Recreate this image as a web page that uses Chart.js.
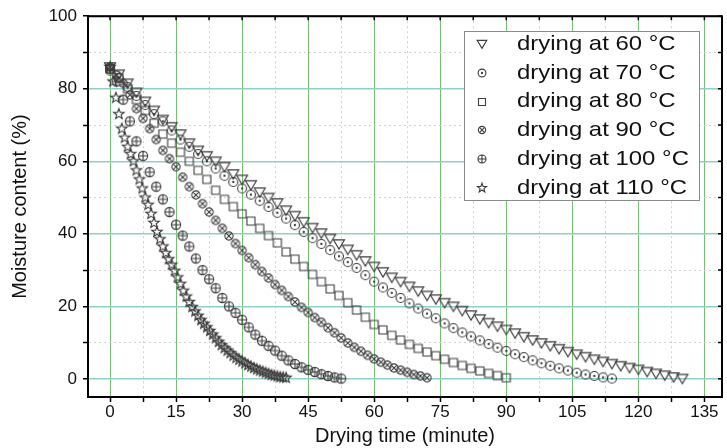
<!DOCTYPE html>
<html>
<head>
<meta charset="utf-8">
<script src="https://cdn.jsdelivr.net/npm/chart.js@4.4.1/dist/chart.umd.min.js"></script>
<style>
  html, body { margin: 0; padding: 0; background: #fff; }
  #wrap { width: 727px; height: 448px; }
</style>
</head>
<body>
<div id="wrap"><canvas id="chart" width="727" height="448"></canvas></div>
<script>
// Series labels (one per drying temperature)
const seriesLabels = ['drying at 60 °C', 'drying at 70 °C', 'drying at 80 °C', 'drying at 90 °C', 'drying at 100 °C', 'drying at 110 °C'];

// Drying time (minute) and moisture content (%)
const t60 = [0,2,4,6,8,10,12,14,16,18,20,22,24,26,28,30,32,34,36,38,40,42,44,46,48,50,52,54,56,58,60,62,64,66,68,70,72,74,76,78,80,82,84,86,88,90,92,94,96,98,100,102,104,106,108,110,112,114,116,118,120,122,124,126,128,130];
const m60 = [86,84,81.5,79,76.5,74,71.5,69.5,67.5,65,63,61.5,60,58.5,56.5,55,53.5,51.5,50,48.5,46.5,45,43.3,41.7,40.2,38.7,37.2,35.7,34.2,32.5,31,29.5,28,26.8,25.5,24.2,23,22,21,20,18.8,17.6,16.5,15.5,14.5,13.6,12.6,11.6,10.7,9.9,9.1,8.3,7.5,6.8,6.1,5.4,4.8,4.2,3.6,3.1,2.6,2.0,1.5,1.0,0.5,0.1];

const t70 = [0,2,4,6,8,10,12,14,16,18,20,22,24,26,28,30,32,34,36,38,40,42,44,46,48,50,52,54,56,58,60,62,64,66,68,70,72,74,76,78,80,82,84,86,88,90,92,94,96,98,100,102,104,106,108,110,112,114];
const m70 = [85,83,80.5,78,75.5,73,71,68.5,66,64,62,60,58,56,54.3,52.5,50.8,49.1,47.4,45.8,44.2,42.4,40.5,38.8,37.2,35.5,33.8,32.2,30.6,28.6,26.8,25.2,23.7,22.3,20.8,19.4,18,16.7,15.3,14,12.8,11.7,10.6,9.6,8.6,7.7,6.8,6,5.1,4.3,3.6,2.9,2.3,1.7,1.2,0.8,0.4,0.1];

const t80 = [0,2,4,6,8,10,12,14,16,18,20,22,24,26,28,30,32,34,36,38,40,42,44,46,48,50,52,54,56,58,60,62,64,66,68,70,72,74,76,78,80,82,84,86,88,90];
const m80 = [85.5,83,80,77,74,70.5,67.5,65,62.5,60,57.5,55,52,49.5,47.5,45.5,43.5,41.5,39.5,37.5,35,33,31,28.8,26.8,24.8,23,21,19,17,15,13.5,12,10.7,9.5,8.4,7.4,6.4,5.4,4.5,3.7,2.9,2.2,1.5,0.9,0.3];

const t90 = [0,1.5,3,4.5,6,7.5,9,10.5,12,13.5,15,16.5,18,19.5,21,22.5,24,25.5,27,28.5,30,31.5,33,34.5,36,37.5,39,40.5,42,43.5,45,46.5,48,49.5,51,52.5,54,55.5,57,58.5,60,61.5,63,64.5,66,67.5,69,70.5,72];
const m90 = [86,83.8,81.5,78.3,74.5,71.8,69,66,63,60.7,58.5,55.6,53,50.7,48.3,46,43.7,41.5,39.4,37.3,35.4,33.4,31.5,29.6,27.8,26,24.4,22.7,21.2,19.7,18.3,16.9,15.6,14.1,12.7,11.3,9.9,8.7,7.6,6.5,5.5,4.6,3.8,3.0,2.4,1.8,1.2,0.8,0.3];

const t100 = [0,1.5,3,4.5,6,7.5,9,10.5,12,13.5,15,16.5,18,19.5,21,22.5,24,25.5,27,28.5,30,31.5,33,34.5,36,37.5,39,40.5,42,43.5,45,46.5,48,49.5,51,52.5];
const m100 = [85.5,82,77,71,65.5,61.5,57,53,49.5,46,42.5,39.5,36.5,33.2,30,27.5,25,22.3,20,18.2,16.3,14.2,12.2,10.5,9.1,7.8,6.4,5.1,4.1,3.2,2.5,1.9,1.3,0.8,0.4,0.1];

const t110 = [0,0.67,1.33,2,2.67,3.33,4,4.67,5.33,6,6.67,7.33,8,8.67,9.33,10,10.67,11.33,12,12.67,13.33,14,14.67,15.33,16,16.67,17.33,18,18.67,19.33,20,20.67,21.33,22,22.67,23.33,24,24.67,25.33,26,26.67,27.33,28,28.67,29.33,30,30.67,31.33,32,32.67,33.33,34,34.67,35.33,36,36.67,37.33,38,38.67,39.33,40];
const m110 = [86,82,77.5,73,69,66.5,64,62,60,57.5,55,52.5,50,48,45.5,43,40.5,38.5,36.5,34.7,33,31.5,29.8,28,26.2,24.3,22.7,21.2,19.8,18.6,17.4,16.2,15.2,14.2,13.2,12.2,11.2,10.2,9.3,8.5,7.8,7.1,6.4,5.8,5.3,4.8,4.3,3.8,3.4,3.0,2.6,2.3,2.0,1.7,1.4,1.1,0.9,0.7,0.5,0.4,0.3];

// Axis ticks
const xMajor = [0,15,30,45,60,75,90,105,120,135];
const xTickValues = [0,7.5,15,22.5,30,37.5,45,52.5,60,67.5,75,82.5,90,97.5,105,112.5,120,127.5,135];
const yMajor = [0,20,40,60,80,100];
const yTickValues = [0,10,20,30,40,50,60,70,80,90,100];

const timeSets = [t60, t70, t80, t90, t100, t110];
const moistureSets = [m60, m70, m80, m90, m100, m110];
const markerKinds = ['triDown', 'circleDot', 'square', 'circleX', 'circlePlus', 'star'];

Chart.defaults.font.family = "'Liberation Sans', Arial, sans-serif";
Chart.defaults.color = '#111';

// Hollow marker drawn on a small canvas, used as pointStyle
function makeMarker(kind, s) {
  const c = document.createElement('canvas');
  c.width = 16; c.height = 16;
  const g = c.getContext('2d');
  const m = 8;
  g.strokeStyle = '#3c3c3c';
  g.lineWidth = 1.1;
  g.beginPath();
  if (kind === 'triDown') {
    g.moveTo(m - 4.8 * s, m - 3.6 * s);
    g.lineTo(m + 4.8 * s, m - 3.6 * s);
    g.lineTo(m, m + 4.4 * s);
    g.closePath();
  } else if (kind === 'circleDot') {
    g.arc(m, m, 3.9 * s, 0, Math.PI * 2);
    g.moveTo(m + 0.6, m);
    g.arc(m, m, 0.6, 0, Math.PI * 2);
  } else if (kind === 'square') {
    g.rect(m - 3.5 * s, m - 3.5 * s, 7 * s, 7 * s);
  } else if (kind === 'circleX') {
    const r = 3.6 * s, d = r * 0.7;
    g.arc(m, m, r, 0, Math.PI * 2);
    g.moveTo(m - d, m - d); g.lineTo(m + d, m + d);
    g.moveTo(m + d, m - d); g.lineTo(m - d, m + d);
  } else if (kind === 'circlePlus') {
    const r = 4 * s;
    g.arc(m, m, r, 0, Math.PI * 2);
    g.moveTo(m - r, m); g.lineTo(m + r, m);
    g.moveTo(m, m - r); g.lineTo(m, m + r);
  } else if (kind === 'star') {
    for (let i = 0; i < 10; i++) {
      const a = -Math.PI / 2 + i * Math.PI / 5;
      const r = (i % 2 ? 2 : 4.8) * s;
      const px = m + r * Math.cos(a), py = m + r * Math.sin(a);
      if (i === 0) g.moveTo(px, py); else g.lineTo(px, py);
    }
    g.closePath();
  }
  g.stroke();
  return c;
}

const plotMarkers = markerKinds.map(k => makeMarker(k, 1.15));
const legendMarkers = markerKinds.map(k => makeMarker(k, 1.0));

// Top and right frame with inward ticks
const framePlugin = {
  id: 'frame',
  afterDraw(chart) {
    const { ctx: g, chartArea: a, scales: { x, y } } = chart;
    g.save();
    g.strokeStyle = '#000';
    g.lineWidth = 2;
    g.beginPath();
    g.moveTo(a.left, a.top); g.lineTo(a.right, a.top);
    g.lineTo(a.right, a.bottom);
    g.stroke();
    g.lineWidth = 1.5;
    g.beginPath();
    xTickValues.forEach(v => {
      const px = x.getPixelForValue(v);
      g.moveTo(px, a.top); g.lineTo(px, a.top + 4);
    });
    yTickValues.forEach(v => {
      const py = y.getPixelForValue(v);
      g.moveTo(a.right, py); g.lineTo(a.right - 4, py);
    });
    g.stroke();
    g.restore();
  }
};

// Boxed legend in the upper right
const legendPlugin = {
  id: 'boxLegend',
  afterDraw(chart) {
    const g = chart.ctx;
    const x0 = 464, y0 = 31, w = 235, h = 169;
    g.save();
    g.fillStyle = '#fff';
    g.fillRect(x0, y0, w, h);
    g.strokeStyle = '#8a8a8a';
    g.lineWidth = 1;
    g.strokeRect(x0 + 0.5, y0 + 0.5, w, h);
    g.fillStyle = '#111';
    g.textBaseline = 'middle';
    g.font = "21px 'Liberation Sans', Arial, sans-serif";
    chart.data.datasets.forEach((ds, i) => {
      const cy = y0 + 13 + i * 28.8;
      const mk = legendMarkers[i];
      g.drawImage(mk, 482 - mk.width / 2, Math.round(cy - mk.height / 2));
      g.save();
      g.translate(517, cy);
      g.scale(1.14, 1);
      g.fillText(ds.label, 0, 0);
      g.restore();
    });
    g.restore();
  }
};

const datasets = seriesLabels.map((label, i) => ({
  label: label,
  data: timeSets[i].map((t, j) => ({ x: t, y: moistureSets[i][j] })),
  pointStyle: plotMarkers[i],
  pointRadius: 4,
  pointHoverRadius: 4
}));

new Chart(document.getElementById('chart').getContext('2d'), {
  type: 'scatter',
  data: { datasets: datasets },
  options: {
    responsive: false,
    animation: false,
    layout: { padding: { left: 0, right: 2, top: 16, bottom: 0 } },
    plugins: {
      legend: { display: false },
      tooltip: { enabled: false }
    },
    scales: {
      x: {
        type: 'linear',
        min: -5,
        max: 139,
        afterBuildTicks: axis => { axis.ticks = xTickValues.map(v => ({ value: v })); },
        afterFit: axis => { axis.height = 51; },
        ticks: {
          autoSkip: false,
          maxRotation: 0,
          padding: 0,
          color: '#111',
          font: { size: 17 },
          callback: v => xMajor.includes(v) ? String(v) : ''
        },
        grid: {
          color: c => (c.tick && xMajor.includes(c.tick.value)) ? '#72c272' : '#d2d2d2',
          lineWidth: 1,
          tickLength: 5,
          tickColor: '#000',
          tickWidth: 1.5
        },
        border: {
          color: '#000',
          width: 2,
          dash: c => (c.tick && !xMajor.includes(c.tick.value)) ? [2, 3] : []
        },
        title: {
          display: true,
          text: 'Drying time (minute)',
          color: '#111',
          font: { size: 20 },
          padding: { top: 0, bottom: 0 }
        }
      },
      y: {
        type: 'linear',
        min: -5,
        max: 100,
        afterBuildTicks: axis => { axis.ticks = yTickValues.map(v => ({ value: v })); },
        afterFit: axis => { axis.width = 88; },
        ticks: {
          padding: 6,
          color: '#111',
          font: { size: 17 },
          callback: v => yMajor.includes(v) ? String(v) : ''
        },
        grid: {
          color: c => (c.tick && yMajor.includes(c.tick.value)) ? '#8fcfcb' : '#d2d2d2',
          lineWidth: c => (c.tick && yMajor.includes(c.tick.value)) ? 1.5 : 1,
          tickLength: 5,
          tickColor: '#000',
          tickWidth: 1.5
        },
        border: {
          color: '#000',
          width: 2,
          dash: c => (c.tick && !yMajor.includes(c.tick.value)) ? [2, 3] : []
        },
        title: {
          display: true,
          text: 'Moisture content (%)',
          color: '#111',
          font: { size: 20 },
          padding: { top: 8, bottom: 0 }
        }
      }
    }
  },
  plugins: [framePlugin, legendPlugin]
});
</script>
</body>
</html>
